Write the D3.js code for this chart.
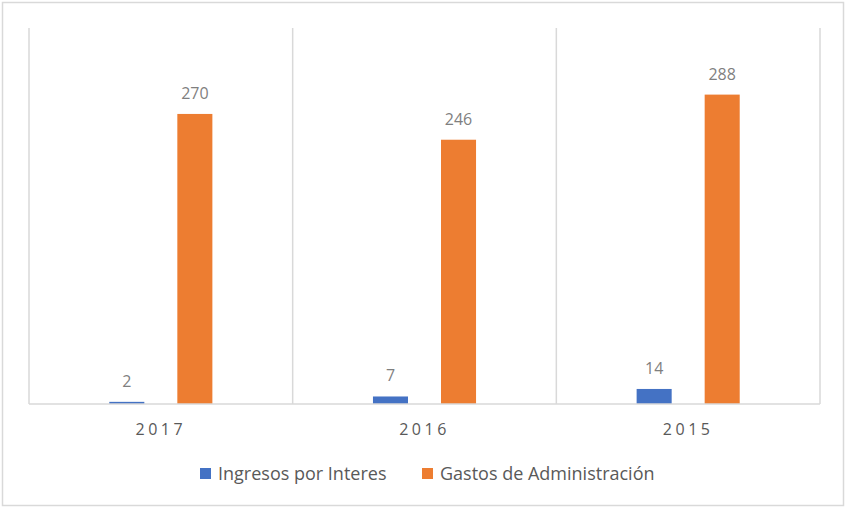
<!DOCTYPE html>
<html>
<head>
<meta charset="utf-8">
<script src="https://cdn.jsdelivr.net/npm/d3@7"></script>
<style>
  body { margin: 0; background: #fff; }
  svg text { font-family: "Open Sans", "Liberation Sans", sans-serif; }
</style>
</head>
<body>
<div id="chart"></div>
<script>
// chart data
const years = ["2017", "2016", "2015"];
const seriesNames = ["Ingresos por Interes", "Gastos de Administración"];
const ingresos = [2, 7, 14];
const gastos = [270, 246, 288];
const colors = ["#4472C4", "#ED7D31"];

const W = 846, H = 508;
const margin = { top: 28, right: 26, bottom: 104, left: 29 };
const width = W - margin.left - margin.right,
	height = H - margin.top - margin.bottom;

const svg = d3.select("#chart").append("svg")
	.attr("width", W)
	.attr("height", H);

// outer border
svg.append("rect")
	.attr("x", 2.5).attr("y", 2.5)
	.attr("width", W - 5).attr("height", H - 5)
	.attr("fill", "#fff")
	.attr("stroke", "#d9d9d9")
	.attr("stroke-width", 1.5);

const g = svg.append("g")
	.attr("transform", "translate(" + margin.left + "," + margin.top + ")");

const x = d3.scaleBand().domain(years).range([0, width]);
const x1 = d3.scaleBand().domain(seriesNames)
	.range([0, x.bandwidth()])
	.paddingInner(0.485)
	.paddingOuter(1.18);
const y = d3.scaleLinear().domain([0, 350]).range([height, 0]);

// vertical separators
const bounds = years.map(d => x(d)).concat([width]);
g.selectAll(".sep")
	.data(bounds)
	.enter().append("line")
	.attr("class", "sep")
	.attr("x1", d => d).attr("x2", d => d)
	.attr("y1", 0).attr("y2", height)
	.attr("stroke", "#d9d9d9")
	.attr("stroke-width", 1.5);

// bars
const rows = years.map((yr, i) => ({ year: yr, vals: [ingresos[i], gastos[i]] }));

const groups = g.selectAll(".grp")
	.data(rows)
	.enter().append("g")
	.attr("class", "grp")
	.attr("transform", d => "translate(" + x(d.year) + ",0)");

const cells = groups.selectAll(".cell")
	.data(d => d.vals.map((v, k) => ({ name: seriesNames[k], v: v, k: k })))
	.enter();

cells.append("rect")
	.attr("x", d => x1(d.name))
	.attr("width", x1.bandwidth())
	.attr("y", d => y(d.v))
	.attr("height", d => height - y(d.v))
	.attr("fill", d => colors[d.k]);

cells.append("text")
	.attr("x", d => x1(d.name) + x1.bandwidth() / 2)
	.attr("y", d => y(d.v) - 15)
	.attr("text-anchor", "middle")
	.style("font-size", "16px")
	.attr("fill", "#7f7f7f")
	.text(d => d.v);

// baseline
g.append("line")
	.attr("x1", 0).attr("x2", width)
	.attr("y1", height).attr("y2", height)
	.attr("stroke", "#d9d9d9")
	.attr("stroke-width", 1.5);

// category labels
const xAxis = g.append("g")
	.attr("transform", "translate(0," + height + ")")
	.call(d3.axisBottom(x).tickSize(0).tickPadding(0));
xAxis.select(".domain").remove();
xAxis.selectAll("text")
	.attr("dy", null)
	.attr("y", 31)
	.style("font-size", "16px")
	.style("letter-spacing", "3.5px")
	.style("font-family", "'Open Sans', sans-serif")
	.attr("fill", "#595959");

// legend
const legendX = [200, 422];
const legend = svg.selectAll(".leg")
	.data(seriesNames)
	.enter().append("g")
	.attr("class", "leg")
	.attr("transform", (d, i) => "translate(" + legendX[i] + ",468)");
legend.append("rect")
	.attr("width", 11).attr("height", 11)
	.attr("fill", (d, i) => colors[i]);
legend.append("text")
	.attr("x", 18)
	.attr("y", 12)
	.style("font-size", "18px")
	.attr("fill", "#595959")
	.text(d => d);
</script>
</body>
</html>
